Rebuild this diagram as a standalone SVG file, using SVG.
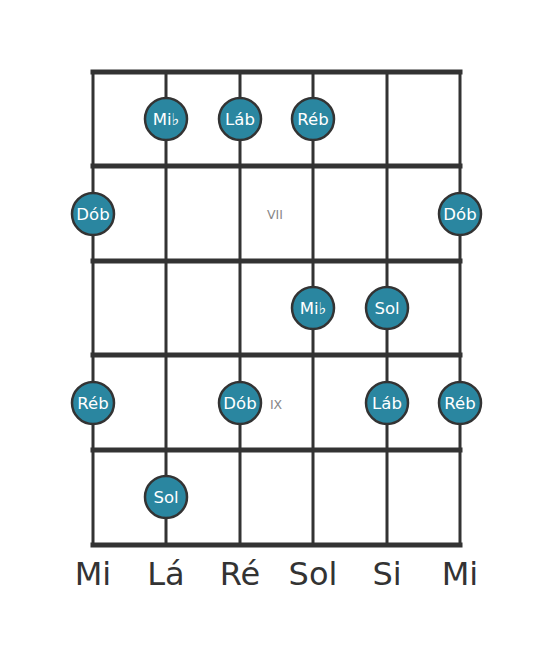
<svg xmlns="http://www.w3.org/2000/svg" width="553" height="656" viewBox="0 0 553 656">
<style>
.fret{stroke:#333;stroke-width:5;stroke-linecap:square}
.str{stroke:#333;stroke-width:3}
.dot{fill:#2a86a0;stroke:#333;stroke-width:2.5}
.nl{fill:#fff;font-family:"DejaVu Sans",sans-serif;font-size:16.5px;text-anchor:middle}
.pos{fill:#888;font-family:"DejaVu Sans",sans-serif;font-size:12.5px;text-anchor:middle}
.sl{fill:#333;font-family:"DejaVu Sans",sans-serif;font-size:32px;text-anchor:middle}
</style>
<rect width="553" height="656" fill="#fff"/>
<g id="connectors">
<line class="str" x1="93" y1="72" x2="93" y2="545"/>
<line class="str" x1="166" y1="72" x2="166" y2="545"/>
<line class="str" x1="240" y1="72" x2="240" y2="545"/>
<line class="str" x1="313" y1="72" x2="313" y2="545"/>
<line class="str" x1="387" y1="72" x2="387" y2="545"/>
<line class="str" x1="460" y1="72" x2="460" y2="545"/>
<line class="fret" x1="93" y1="72" x2="460" y2="72"/>
<line class="fret" x1="93" y1="166" x2="460" y2="166"/>
<line class="fret" x1="93" y1="261" x2="460" y2="261"/>
<line class="fret" x1="93" y1="355" x2="460" y2="355"/>
<line class="fret" x1="93" y1="450" x2="460" y2="450"/>
<line class="fret" x1="93" y1="545" x2="460" y2="545"/>
</g>
<text class="pos" x="275" y="218.5">VII</text>
<text class="pos" x="276" y="408.5">IX</text>
<g id="n1"><circle class="dot" cx="166" cy="119" r="21"/><text class="nl" x="166" y="125">Mi♭</text></g>
<g id="n2"><circle class="dot" cx="240" cy="119" r="21"/><text class="nl" x="240" y="125">Láb</text></g>
<g id="n3"><circle class="dot" cx="313" cy="119" r="21"/><text class="nl" x="313" y="125">Réb</text></g>
<g id="n4"><circle class="dot" cx="93" cy="214" r="21"/><text class="nl" x="93" y="220">Dób</text></g>
<g id="n5"><circle class="dot" cx="460" cy="214" r="21"/><text class="nl" x="460" y="220">Dób</text></g>
<g id="n6"><circle class="dot" cx="313" cy="308" r="21"/><text class="nl" x="313" y="314">Mi♭</text></g>
<g id="n7"><circle class="dot" cx="387" cy="308" r="21"/><text class="nl" x="387" y="314">Sol</text></g>
<g id="n8"><circle class="dot" cx="93" cy="403" r="21"/><text class="nl" x="93" y="409">Réb</text></g>
<g id="n9"><circle class="dot" cx="240" cy="403" r="21"/><text class="nl" x="240" y="409">Dób</text></g>
<g id="n10"><circle class="dot" cx="387" cy="403" r="21"/><text class="nl" x="387" y="409">Láb</text></g>
<g id="n11"><circle class="dot" cx="460" cy="403" r="21"/><text class="nl" x="460" y="409">Réb</text></g>
<g id="n12"><circle class="dot" cx="166" cy="497" r="21"/><text class="nl" x="166" y="503">Sol</text></g>
<text class="sl" x="93" y="585">Mi</text>
<text class="sl" x="166" y="585">Lá</text>
<text class="sl" x="240" y="585">Ré</text>
<text class="sl" x="313" y="585">Sol</text>
<text class="sl" x="387" y="585">Si</text>
<text class="sl" x="460" y="585">Mi</text>
</svg>
